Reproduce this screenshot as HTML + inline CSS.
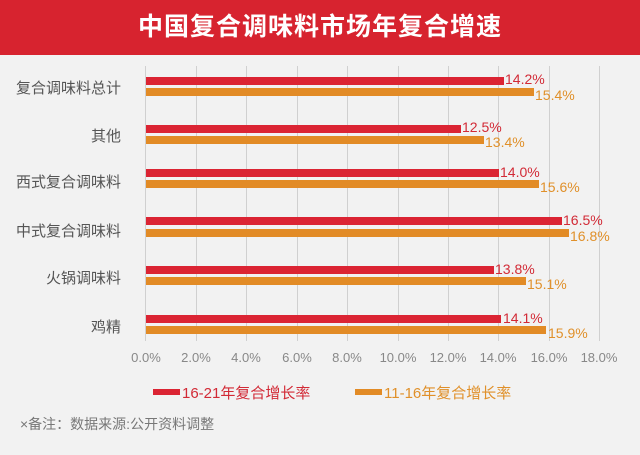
<!DOCTYPE html>
<html><head><meta charset="utf-8"><style>
body{margin:0;width:640px;height:455px;background:#f2f2f2;font-family:"Liberation Sans","Noto Sans CJK SC",sans-serif;position:relative;overflow:hidden}
.t{position:absolute;left:0;top:0;width:640px;height:55px;background:#d7232f;color:#fff;font-size:25px;font-weight:bold;text-align:center;line-height:55px;letter-spacing:1px}
.g{position:absolute;top:66px;height:275px;width:1px;background:#d0d0d0}
.b{position:absolute;height:8px;left:146px}
.r{background:#db2433}.o{background:#e28b26}
.lab{position:absolute;right:519px;font-size:15px;color:#555;white-space:nowrap}
.v{position:absolute;font-size:14px;line-height:15px}
.vr{color:#d22a36}.vo{color:#e0902a}
.tk{position:absolute;top:350px;font-size:13px;color:#888;width:60px;text-align:center}
</style></head><body>
<div class="t">中国复合调味料市场年复合增速</div>
<div class="g" style="left:145px"></div><div class="g" style="left:196px"></div><div class="g" style="left:246px"></div><div class="g" style="left:297px"></div><div class="g" style="left:347px"></div><div class="g" style="left:398px"></div><div class="g" style="left:448px"></div><div class="g" style="left:498px"></div><div class="g" style="left:549px"></div><div class="g" style="left:599px"></div>

<div class="lab" style="top:77px">复合调味料总计</div>
<div class="b r" style="top:77px;width:358px"></div><div class="b o" style="top:88px;width:388px"></div>
<div class="v vr" style="top:72px;left:505px">14.2%</div><div class="v vo" style="top:88px;left:535px">15.4%</div>

<div class="lab" style="top:125px">其他</div>
<div class="b r" style="top:125px;width:315px"></div><div class="b o" style="top:136px;width:338px"></div>
<div class="v vr" style="top:120px;left:462px">12.5%</div><div class="v vo" style="top:135px;left:485px">13.4%</div>

<div class="lab" style="top:171px">西式复合调味料</div>
<div class="b r" style="top:169px;width:353px"></div><div class="b o" style="top:180px;width:393px"></div>
<div class="v vr" style="top:165px;left:500px">14.0%</div><div class="v vo" style="top:180px;left:540px">15.6%</div>

<div class="lab" style="top:220px">中式复合调味料</div>
<div class="b r" style="top:217px;width:416px"></div><div class="b o" style="top:229px;width:423px"></div>
<div class="v vr" style="top:213px;left:563px">16.5%</div><div class="v vo" style="top:229px;left:570px">16.8%</div>

<div class="lab" style="top:267px">火锅调味料</div>
<div class="b r" style="top:266px;width:348px"></div><div class="b o" style="top:277px;width:380px"></div>
<div class="v vr" style="top:262px;left:495px">13.8%</div><div class="v vo" style="top:277px;left:527px">15.1%</div>

<div class="lab" style="top:316px">鸡精</div>
<div class="b r" style="top:315px;width:355px"></div><div class="b o" style="top:326px;width:400px"></div>
<div class="v vr" style="top:311px;left:503px">14.1%</div><div class="v vo" style="top:326px;left:548px">15.9%</div>

<div class="tk" style="left:116px">0.0%</div><div class="tk" style="left:166px">2.0%</div><div class="tk" style="left:216px">4.0%</div><div class="tk" style="left:267px">6.0%</div><div class="tk" style="left:317px">8.0%</div><div class="tk" style="left:368px">10.0%</div><div class="tk" style="left:418px">12.0%</div><div class="tk" style="left:468px">14.0%</div><div class="tk" style="left:519px">16.0%</div><div class="tk" style="left:569px">18.0%</div>

<div style="position:absolute;top:389px;left:153px;width:27px;height:6px;background:#db2433"></div>
<div style="position:absolute;top:382px;left:182px;font-size:15px;color:#d22a36">16-21年复合增长率</div>
<div style="position:absolute;top:389px;left:355px;width:27px;height:6px;background:#e28b26"></div>
<div style="position:absolute;top:382px;left:384px;font-size:15px;color:#e0902a">11-16年复合增长率</div>
<div style="position:absolute;top:414px;left:20px;font-size:14px;color:#777">×备注：数据来源:公开资料调整</div>
</body></html>
